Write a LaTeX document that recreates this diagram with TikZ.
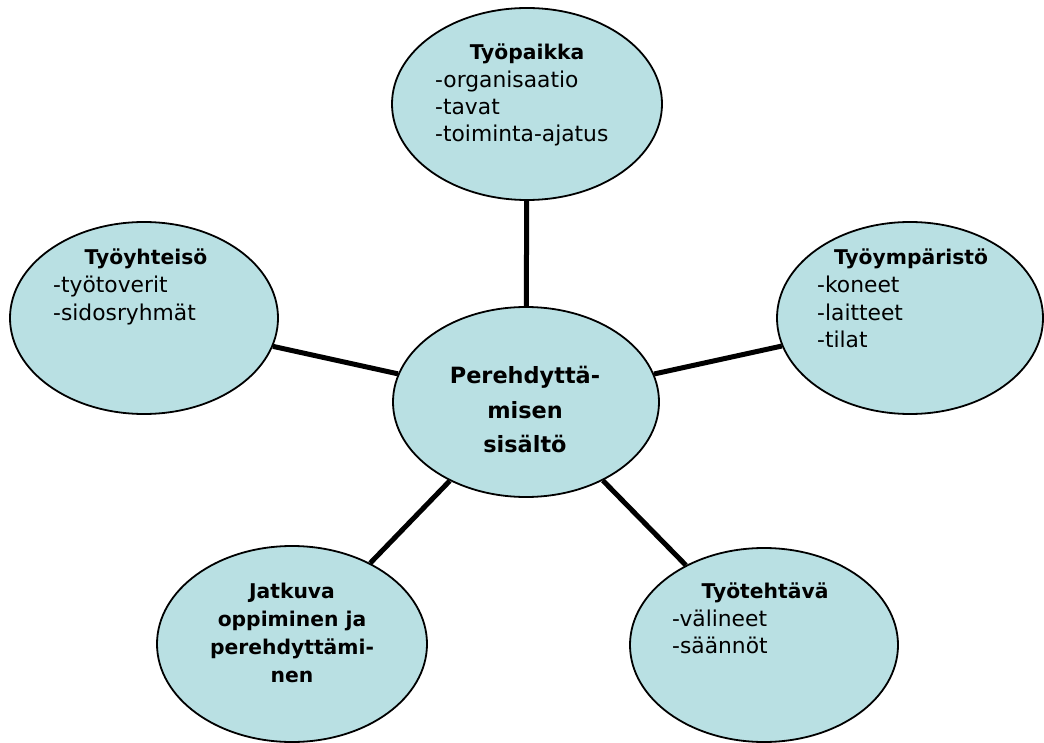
\documentclass[tikz,border=0pt]{standalone}
\usepackage{fontspec}
\setmainfont{DejaVu Sans}
\usetikzlibrary{shapes.geometric}
\definecolor{bubcol}{RGB}{185,224,227}
\begin{document}
\begin{tikzpicture}[x=1pt,y=-1pt,
  bub/.style={ellipse, draw=black, line width=1.8pt, fill=bubcol, inner sep=0pt},
  link/.style={line width=5pt},
  ttl/.style={font=\bfseries\fontsize{20.3}{24}\selectfont, anchor=base, inner sep=0pt},
  ctl/.style={font=\bfseries\fontsize{22.4}{26}\selectfont, anchor=base, inner sep=0pt},
  itm/.style={font=\fontsize{21.8}{26}\selectfont, anchor=base west, inner sep=0pt}]
\useasboundingbox (0,0) rectangle (1044,743);
% ellipses
\node[bub, minimum width=270pt, minimum height=192pt] (top) at (527,104) {};
\node[bub, minimum width=266pt, minimum height=190pt] (c) at (526,402) {};
\node[bub, minimum width=268pt, minimum height=192pt] (l) at (144,318) {};
\node[bub, minimum width=266pt, minimum height=192pt] (r) at (910,318) {};
\node[bub, minimum width=270pt, minimum height=196pt] (bl) at (292,644) {};
\node[bub, minimum width=268pt, minimum height=194pt] (br) at (764,645) {};
% connectors
\draw[link] (top) -- (c);
\draw[link] (l) -- (c);
\draw[link] (r) -- (c);
\draw[link] (bl) -- (c);
\draw[link] (br) -- (c);
% top
\node[ttl] (t0) at (527,60) {Työpaikka};
\node[itm] (t1) at (435,88) {-organisaatio};
\node[itm] (t2) at (435,115) {-tavat};
\node[itm] (t3) at (435,142) {-toiminta-ajatus};
% left
\node[ttl] (l0) at (146,265) {Työyhteisö};
\node[itm] (l1) at (53,293) {-työtoverit};
\node[itm] (l2) at (53,320) {-sidosryhmät};
% right
\node[ttl] (r0) at (911,265) {Työympäristö};
\node[itm] (r1) at (817,293) {-koneet};
\node[itm] (r2) at (817,320) {-laitteet};
\node[itm] (r3) at (817,347) {-tilat};
% bottom right
\node[ttl] (br0) at (765,598) {Työtehtävä};
\node[itm] (br1) at (672,626) {-välineet};
\node[itm] (br2) at (672,653) {-säännöt};
% bottom left
\node[ttl] (bl0) at (292,598) {Jatkuva};
\node[ttl] (bl1) at (292,626) {oppiminen ja};
\node[ttl] (bl2) at (292,654) {perehdyttämi-};
\node[ttl] (bl3) at (292,682) {nen};
% centre
\node[ctl] (c0) at (525,383) {Perehdyttä-};
\node[ctl] (c1) at (525,418) {misen};
\node[ctl] (c2) at (525,452) {sisältö};
\end{tikzpicture}
\end{document}
